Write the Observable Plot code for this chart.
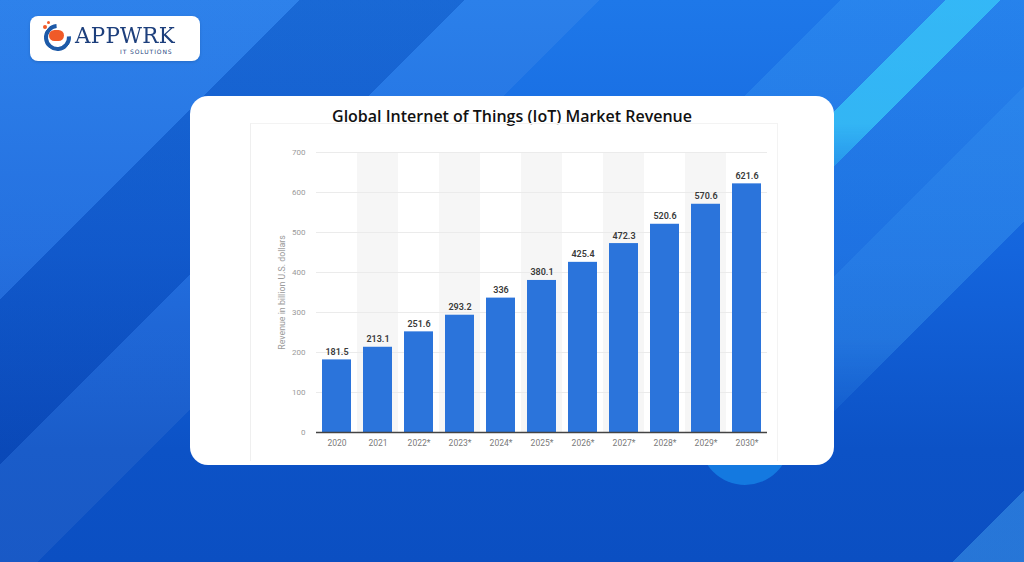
<!DOCTYPE html>
<html>
<head>
<meta charset="utf-8">
<script src="https://cdn.jsdelivr.net/npm/d3@7"></script>
<script src="https://cdn.jsdelivr.net/npm/@observablehq/plot@0.6"></script>
<style>
  html, body { margin: 0; padding: 0; }
  body {
    width: 1024px; height: 562px; overflow: hidden; position: relative;
    font-family: "Open Sans", sans-serif;
    background:
      linear-gradient(135deg,
        rgba(255,255,255,0.07) 0%, rgba(255,255,255,0.07) 18.9%,
        rgba(0,25,110,0.16) 18.9%, rgba(0,25,110,0.16) 29.3%,
        rgba(255,255,255,0.06) 29.3%, rgba(255,255,255,0.06) 37.8%,
        transparent 37.8%, transparent 95.5%,
        rgba(90,190,255,0.35) 95.5%, rgba(90,190,255,0.35) 100%),
      linear-gradient(to bottom, #1e78e9 0%, #1465dd 45%, #0c52c6 80%, #0b4fc2 100%);
  }
  .layer { position: absolute; left: 0; top: 0; width: 1024px; height: 562px; }
  #tr {
    background: linear-gradient(135deg,
      transparent 0%, transparent 53%,
      rgba(90,190,255,0.18) 53%, rgba(90,190,255,0.18) 59.6%,
      rgba(60,205,250,0.75) 59.6%, rgba(60,205,250,0.75) 63.1%,
      transparent 63.1%, transparent 100%);
    -webkit-mask-image: linear-gradient(to bottom, #000 0%, #000 22%, transparent 40%);
    mask-image: linear-gradient(to bottom, #000 0%, #000 22%, transparent 40%);
  }
  #rb {
    background: linear-gradient(135deg,
      transparent 0%, transparent 63.1%,
      rgba(90,190,255,0.15) 63.1%, rgba(90,190,255,0.15) 70%,
      rgba(90,190,255,0.25) 70%, rgba(90,190,255,0.25) 78.5%,
      transparent 78.5%, transparent 100%);
    -webkit-mask-image: linear-gradient(to bottom, #000 0%, #000 60%, transparent 80%);
    mask-image: linear-gradient(to bottom, #000 0%, #000 60%, transparent 80%);
  }
  #logo {
    position: absolute; left: 30px; top: 16px; width: 170px; height: 45px;
    background: #fff; border-radius: 8px; box-shadow: 0 1px 3px rgba(0,0,0,0.15);
  }
  #logo .ring {
    position: absolute; left: 14px; top: 8px; width: 19px; height: 19px;
    border: 4px solid #1d5aa8; border-radius: 50%; border-top-color: transparent; transform: rotate(40deg);
  }
  #logo .bubble {
    position: absolute; left: 19px; top: 14px; width: 15px; height: 11px; background: #f05a28; border-radius: 6px;
  }
  #logo .dot1 { position:absolute; left: 13px; top: 9px; width: 4px; height: 4px; background:#f05a28; border-radius:50%; }
  #logo .dot2 { position:absolute; left: 17px; top: 5px; width: 3px; height: 3px; background:#f05a28; border-radius:50%; }
  #logo .name {
    position: absolute; left: 45px; top: 6px; font-family: "DejaVu Serif", serif; font-size: 23px;
    color: #1d3f7c; letter-spacing: 0.3px; line-height: 26px; transform: scaleX(0.93); transform-origin: left;
  }
  #logo .sub {
    position: absolute; left: 90px; top: 32px; font-family: "DejaVu Sans", sans-serif; font-size: 6px;
    color: #1d3f7c; letter-spacing: 0.9px;
  }
  #circle {
    position: absolute; left: 700px; top: 395px; width: 90px; height: 90px; border-radius: 50%;
    background: #1479e0;
  }
  #card {
    position: absolute; left: 190px; top: 96px; width: 644px; height: 369px;
    background: #fff; border-radius: 18px;
  }
  #title {
    position: absolute; left: 0; top: 9px; width: 644px; text-align: center;
    font-family: "Open Sans", sans-serif; font-weight: 600; font-size: 16px; color: #111; line-height: 22px;
  }
  #chart {
    position: absolute; left: 60px; top: 27px; width: 526px; height: 337px;
    border-left: 1px solid #efefef; border-top: 1px solid #f3f3f3; border-right: 1px solid #f3f3f3;
  }
  #chart svg { display: block; }
</style>
</head>
<body>
<div id="tr" class="layer"></div>
<div id="rb" class="layer"></div>
<div id="logo">
  <div class="ring"></div><div class="bubble"></div><div class="dot1"></div><div class="dot2"></div>
  <div class="name">APPWRK</div>
  <div class="sub">IT SOLUTIONS</div>
</div>
<div id="circle"></div>
<div id="card">
  <div id="title">Global Internet of Things (IoT) Market Revenue</div>
  <div id="chart"></div>
</div>
<script>
const years = ["2020", "2021", "2022*", "2023*", "2024*", "2025*", "2026*", "2027*", "2028*", "2029*", "2030*"];
const revenue = [181.5, 213.1, 251.6, 293.2, 336, 380.1, 425.4, 472.3, 520.6, 570.6, 621.6];
const yTicks = [0, 100, 200, 300, 400, 500, 600, 700];
const yAxisLabel = "Revenue in billion U.S. dollars";

const data = years.map((year, i) => ({ year, revenue: revenue[i] }));
const shaded = years.filter((d, i) => i % 2 === 1);
const yMax = d3.max(yTicks);

const chart = Plot.plot({
  width: 526,
  height: 337,
  marginLeft: 65,
  marginRight: 10,
  marginTop: 28,
  marginBottom: 29,
  style: { fontFamily: "Roboto, sans-serif", background: "transparent", overflow: "visible" },
  x: { domain: years, paddingInner: 0.3, paddingOuter: 0.15, label: null },
  y: { domain: [0, yMax], label: null },
  marks: [
    Plot.barY(shaded, { x: d => d, y1: 0, y2: yMax, fill: "#f6f6f6", insetLeft: -6, insetRight: -6 }),
    Plot.ruleY(yTicks.filter(d => d > 0), { stroke: "#ebebeb", strokeWidth: 1 }),
    Plot.barY(data, { x: "year", y: "revenue", fill: "#2b74db" }),
    Plot.ruleY([0], { stroke: "#444", strokeWidth: 1.3 }),
    Plot.text(data, {
      x: "year", y: "revenue", text: d => String(d.revenue),
      dy: -5, lineAnchor: "bottom", fontSize: 9, fontWeight: 600, fill: "#3a3a3a"
    }),
    Plot.axisY({ ticks: yTicks, tickSize: 0, tickPadding: 11, fontSize: 8, color: "#9a9a9a", label: null }),
    Plot.axisX({ tickSize: 0, tickPadding: 7, fontSize: 8.5, color: "#7a7a7a", label: null }),
    Plot.text([yAxisLabel], {
      text: d => d, frameAnchor: "left", textAnchor: "middle", lineAnchor: "middle",
      rotate: -90, dx: -34, fontSize: 8.8, fill: "#9a9a9a"
    })
  ]
});
document.getElementById("chart").appendChild(chart);
</script>
</body>
</html>
